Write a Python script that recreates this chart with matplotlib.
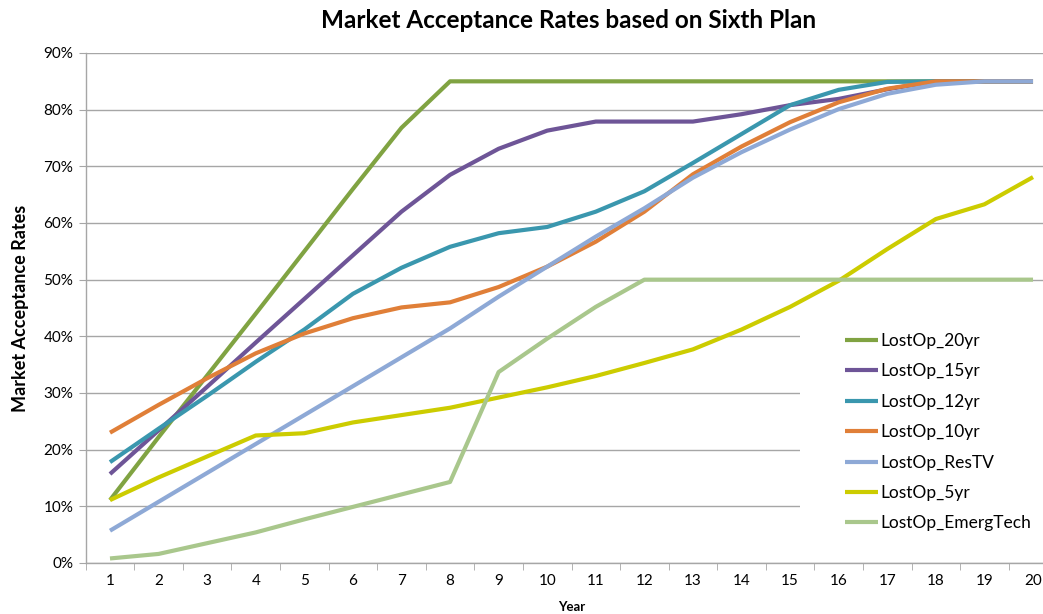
import matplotlib
matplotlib.use("Agg")
import matplotlib.pyplot as plt
from matplotlib.patches import Rectangle
from matplotlib.ticker import FixedLocator, PercentFormatter

years = list(range(1, 21))

lostop_20yr = [11.1, 22.2, 33.1, 44.0, 55.0, 66.0, 76.8, 85.0, 85.0, 85.0,
               85.0, 85.0, 85.0, 85.0, 85.0, 85.0, 85.0, 85.0, 85.0, 85.0]
lostop_15yr = [15.7, 23.4, 31.1, 38.9, 46.6, 54.3, 62.0, 68.5, 73.1, 76.3,
               77.9, 77.9, 77.9, 79.2, 80.8, 81.9, 83.6, 85.0, 85.0, 85.0]
lostop_12yr = [17.8, 23.7, 29.5, 35.5, 41.2, 47.5, 52.1, 55.8, 58.2, 59.3,
               62.0, 65.6, 70.6, 75.7, 80.8, 83.5, 84.9, 85.0, 85.0, 85.0]
lostop_10yr = [23.0, 27.9, 32.6, 37.0, 40.5, 43.2, 45.1, 46.0, 48.7, 52.3,
               56.7, 62.0, 68.6, 73.5, 77.8, 81.3, 83.7, 85.0, 85.0, 85.0]
lostop_restv = [5.7, 10.8, 15.9, 21.0, 26.1, 31.2, 36.3, 41.4, 47.0, 52.3,
                57.6, 62.6, 68.0, 72.5, 76.5, 80.1, 82.8, 84.4, 85.0, 85.0]
lostop_5yr = [11.1, 15.1, 18.8, 22.5, 22.9, 24.8, 26.1, 27.4, 29.2, 31.0,
              33.0, 35.3, 37.7, 41.2, 45.2, 49.8, 55.4, 60.7, 63.3, 68.1]
lostop_emergtech = [0.8, 1.6, 3.5, 5.4, 7.7, 9.9, 12.1, 14.3, 33.7, 39.6,
                    45.2, 50.0, 50.0, 50.0, 50.0, 50.0, 50.0, 50.0, 50.0, 50.0]

series_names = ["LostOp_20yr", "LostOp_15yr", "LostOp_12yr", "LostOp_10yr",
                "LostOp_ResTV", "LostOp_5yr", "LostOp_EmergTech"]
series_values = [lostop_20yr, lostop_15yr, lostop_12yr, lostop_10yr,
                 lostop_restv, lostop_5yr, lostop_emergtech]
series_colors = ["#80A342", "#6E5597", "#3A97AE", "#E07F38",
                 "#8EA9D6", "#CCCC00", "#A9C78C"]

y_ticks = [0, 10, 20, 30, 40, 50, 60, 70, 80, 90]

plt.rcParams['font.family'] = ['Lato', 'DejaVu Sans']

fig = plt.figure(figsize=(10.43, 6.14), dpi=100)
W, H = 1043.0, 614.0
left_px, right_px = 85.7, 1057.3
top_px, bottom_px = 53.0, 563.0
ax = fig.add_axes([left_px / W, (H - bottom_px) / H,
                   (right_px - left_px) / W, (bottom_px - top_px) / H])

grid_color = "#A6A6A6"
ax.set_xlim(0.5, 20.5)
ax.set_ylim(0, 90)
ax.yaxis.set_major_locator(FixedLocator(y_ticks))
ax.yaxis.set_major_formatter(PercentFormatter(decimals=0))
ax.set_xticks(years)
ax.set_xticks([y + 0.5 for y in [0] + years], minor=True)
ax.tick_params(axis='x', which='major', length=0, labelsize=11, pad=8)
ax.tick_params(axis='x', which='minor', length=5, color=grid_color, direction='out')
ax.tick_params(axis='y', which='major', length=5, color=grid_color, labelsize=11, pad=4)
ax.grid(axis='y', color=grid_color, lw=1)
ax.set_axisbelow(True)
for s in ['top', 'right']:
    ax.spines[s].set_visible(False)
for s in ['left', 'bottom']:
    ax.spines[s].set_color(grid_color)
    ax.spines[s].set_linewidth(1)

# white legend backdrop over the gridlines
ax.add_patch(Rectangle((0.735, 0.035), 0.3, 0.44, transform=ax.transAxes,
                       facecolor='white', edgecolor='none', zorder=1.5))

handles = []
for name, vals, col in zip(series_names, series_values, series_colors):
    h, = ax.plot(years, vals, color=col, lw=3.0, label=name, zorder=3,
                 solid_capstyle='butt', solid_joinstyle='round')
    handles.append(h)

ax.legend(handles=handles, loc='upper left', bbox_to_anchor=(0.7815, 0.451),
          frameon=False, fontsize=12.5, borderpad=0, borderaxespad=0,
          handlelength=1.9, handletextpad=0.15, labelspacing=0.83)

fig.text(569 / W, 1 - 20 / H, "Market Acceptance Rates based on Sixth Plan",
         ha='center', va='center', fontsize=17.5, fontweight='bold')
fig.text(21 / W, 1 - 308 / H, "Market Acceptance Rates", rotation=90,
         ha='center', va='center', fontsize=13, fontweight='bold')
fig.text(572 / W, 1 - 607 / H, "Year", ha='center', va='center',
         fontsize=9.5, fontweight='bold')

fig.savefig("out.png", dpi=100)
